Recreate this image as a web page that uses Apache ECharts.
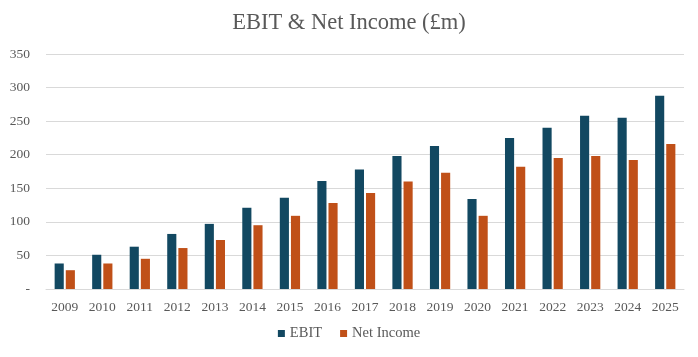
<!DOCTYPE html>
<html><head><meta charset="utf-8">
<script src="https://cdn.jsdelivr.net/npm/echarts@6/dist/echarts.min.js"></script>
<style>html,body{margin:0;padding:0;background:#fff}#c{width:698px;height:357px}</style>
</head><body><div id="c"></div>
<script>
const years = ['2009','2010','2011','2012','2013','2014','2015','2016','2017','2018','2019','2020','2021','2022','2023','2024','2025'];
const ebit = [38, 51, 63, 82, 97, 121, 136, 161, 178, 198, 213, 134, 225, 240, 258, 255, 288];
const netIncome = [28, 38, 45, 61, 73, 95, 109, 128, 143, 160, 173, 109, 182, 195, 198, 192, 216];
const yTicks = {min: 0, max: 350, interval: 50};

const font = '"Liberation Serif", "Times New Roman", serif';
const chart = echarts.init(document.getElementById('c'), null, {renderer: 'canvas'});
chart.setOption({
  animation: false,
  title: {text: 'EBIT & Net Income (£m)', left: 'center', top: 7,
    textStyle: {fontFamily: font, fontSize: 22.5, fontWeight: 'normal', color: '#595959'}},
  legend: {bottom: 11, left: 'center', itemWidth: 7, itemHeight: 7, itemGap: 18,
    icon: 'rect', textStyle: {fontFamily: font, fontSize: 14.5, color: '#595959'},
    data: ['EBIT', 'Net Income']},
  grid: {left: 46, right: 14, top: 54, bottom: 68},
  xAxis: {type: 'category', data: years,
    axisLine: {show: true, lineStyle: {color: '#d9d9d9'}}, axisTick: {show: false},
    axisLabel: {fontFamily: font, fontSize: 13.5, color: '#595959', margin: 11}},
  yAxis: {type: 'value', min: yTicks.min, max: yTicks.max, interval: yTicks.interval,
    axisLine: {show: false}, axisTick: {show: false},
    splitLine: {lineStyle: {color: '#d9d9d9'}},
    axisLabel: {fontFamily: font, fontSize: 13.5, color: '#595959', margin: 16,
      formatter: v => v === 0 ? '-' : String(v)}},
  series: [
    {name: 'EBIT', type: 'bar', data: ebit, itemStyle: {color: '#124861'},
      barGap: '22%', barCategoryGap: '46%'},
    {name: 'Net Income', type: 'bar', data: netIncome, itemStyle: {color: '#C05018'}}
  ]
});
</script></body></html>
